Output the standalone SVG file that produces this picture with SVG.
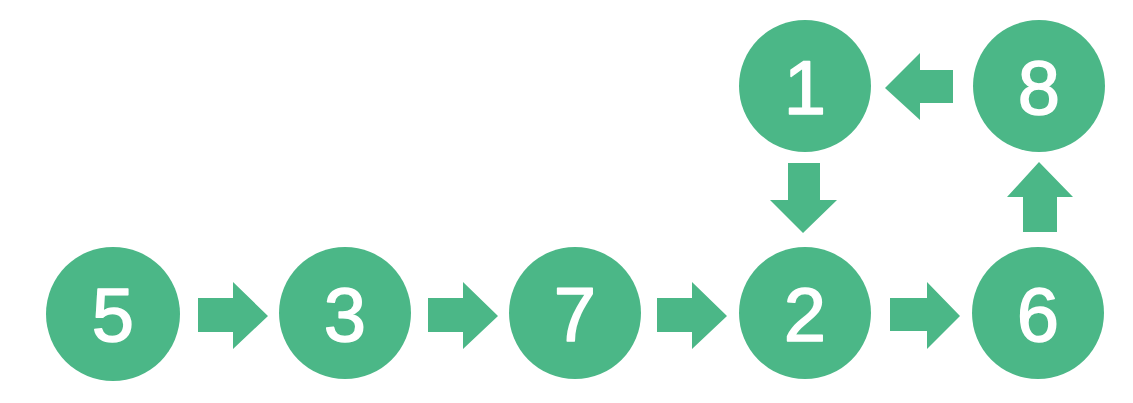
<svg xmlns="http://www.w3.org/2000/svg" width="1133" height="403" viewBox="0 0 1133 403">
<style>
.n{fill:#4bb787;}
.t{fill:#ffffff;stroke:#ffffff;stroke-width:1.5;stroke-linejoin:round;font-family:"Liberation Sans",Arial,sans-serif;font-size:76px;text-anchor:middle;}
.a{fill:#4bb787;}
</style>
<rect width="1133" height="403" fill="#ffffff"/>
<g id="node-5"><circle class="n" cx="113" cy="314" r="67"/><text class="t" x="113" y="341">5</text></g>
<g id="node-3"><circle class="n" cx="345" cy="313" r="66"/><text class="t" x="345" y="341">3</text></g>
<g id="node-7"><circle class="n" cx="575" cy="313" r="66"/><text class="t" x="575" y="341">7</text></g>
<g id="node-2"><circle class="n" cx="805" cy="313" r="66"/><text class="t" x="805" y="341">2</text></g>
<g id="node-6"><circle class="n" cx="1038" cy="313" r="66"/><text class="t" x="1038" y="341">6</text></g>
<g id="node-1"><circle class="n" cx="805" cy="86" r="66"/><text class="t" x="805" y="114">1</text></g>
<g id="node-8"><circle class="n" cx="1039" cy="86" r="66"/><text class="t" x="1039" y="114">8</text></g>
<g id="connectors">
<polygon class="a" points="198,298 233,298 233,282 268,316 233,349 233,332 198,332"/>
<polygon class="a" points="428,298 463,298 463,282 498,316 463,349 463,332 428,332"/>
<polygon class="a" points="657,298 692,298 692,282 727,316 692,349 692,332 657,332"/>
<polygon class="a" points="890,298 927,298 927,282 960,316 927,349 927,331 890,331"/>
<polygon class="a" points="1023,232 1023,197 1007,197 1039,162 1073,197 1057,197 1057,232"/>
<polygon class="a" points="953,70 920,70 920,53 885,88 920,120 920,103 953,103"/>
<polygon class="a" points="788,163 820,163 820,200 837,200 803,233 770,200 788,200"/>
</g>
</svg>
